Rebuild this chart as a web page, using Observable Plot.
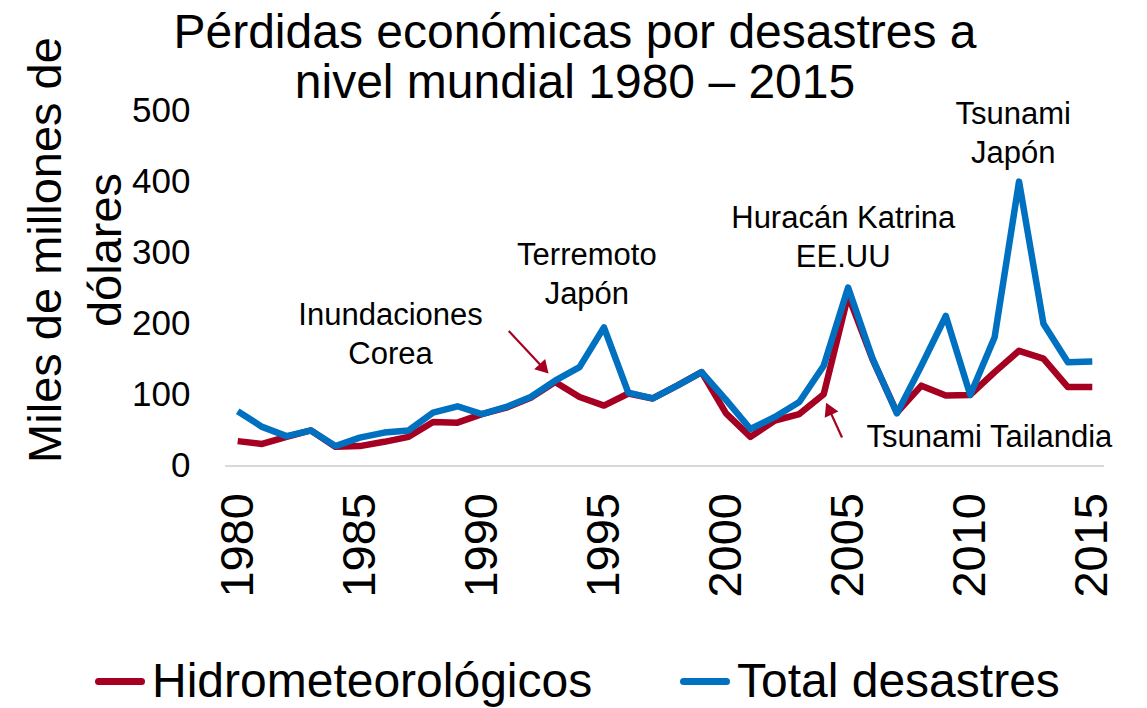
<!DOCTYPE html>
<html>
<head>
<meta charset="utf-8">
<script src="https://cdn.jsdelivr.net/npm/d3@7"></script>
<script src="https://cdn.jsdelivr.net/npm/@observablehq/plot@0.6"></script>
<style>
  html, body { margin: 0; padding: 0; background: #fff; }
  body { font-family: "Liberation Sans", Arial, sans-serif; color: #000; }
  #wrap { position: relative; width: 1147px; height: 708px; overflow: hidden; }
  #title { position: absolute; left: 170px; width: 810px; top: 7px; text-align: center;
           font-size: 48px; line-height: 50px; white-space: nowrap; }
  #ylabel { position: absolute; left: -175px; top: 190px; width: 500px; height: 120px;
            text-align: center; font-size: 47px; line-height: 60px; transform: rotate(-90deg); white-space: nowrap; }
  #chart { position: absolute; left: 0; top: 0; }
  .leg { position: absolute; top: 653px; font-size: 48px; line-height: 56px; white-space: nowrap; display: flex; align-items: center; }
  .sw { display: inline-block; width: 50px; height: 7px; border-radius: 4px; margin-right: 7px; }
</style>
</head>
<body>
<div id="wrap">
  <div id="chart"></div>
  <div id="title"></div>
  <div id="ylabel"></div>
  <div id="legend"></div>
</div>
<script>
// ---- data ----
const titleLines = ["Pérdidas económicas por desastres a", "nivel mundial 1980 – 2015"];
const yLabelLines = ["Miles de millones de", "dólares"];
const years = [1980,1981,1982,1983,1984,1985,1986,1987,1988,1989,1990,1991,1992,1993,1994,1995,1996,1997,1998,1999,2000,2001,2002,2003,2004,2005,2006,2007,2008,2009,2010,2011,2012,2013,2014,2015];
const hidro = [35,31,41,50,27,28,34,41,62,61,73,82,96,118,97,85,102,95,113,132,74,41,64,73,101,240,150,75,113,99,100,132,162,151,111,111];
const total = [77,55,42,50,28,40,47,50,75,84,73,83,97,120,139,195,103,95,113,132,93,52,69,90,141,251,151,74,141,211,100,181,400,200,146,147];
const seriesNames = ["Hidrometeorológicos", "Total desastres"];
const seriesColors = ["#A50021", "#0070C0"];
const xTicks = [1980,1985,1990,1995,2000,2005,2010,2015];
const yTicks = [0,100,200,300,400,500];
const annotations = [
  {label: "Inundaciones\nCorea", x: 1986.26, y: 189},
  {label: "Terremoto\nJapón", x: 1994.3, y: 273},
  {label: "Huracán Katrina\nEE.UU", x: 2004.8, y: 325},
  {label: "Tsunami\nJapón", x: 2011.76, y: 471}
];
const sideNote = [{label: "Tsunami Tailandia", x: 2005.75, y: 40}];
const arrows = [
  {x1: 1991.1, y1: 190, x2: 1992.73, y2: 130},
  {x1: 2004.75, y1: 40, x2: 2004.1, y2: 89}
];

// ---- build ----
const rows = [];
years.forEach((yr, i) => rows.push({year: yr, value: hidro[i], s: seriesNames[0]}));
years.forEach((yr, i) => rows.push({year: yr, value: total[i], s: seriesNames[1]}));

const W = 1147, H = 640, mL = 225, mR = 43, mT = 110, mB = 174.5;
const xDomain = [1979.5, 2015.5], yDomain = [0, 500];
const xs = Plot.scale({x: {domain: xDomain, range: [mL, W - mR]}});
const ys = Plot.scale({y: {domain: yDomain, range: [H - mB, mT]}});

// arrow shafts + filled triangular heads, computed in screen space
const headH = 13;
const shafts = [], heads = [];
arrows.forEach(a => {
  const px1 = xs.apply(a.x1), py1 = ys.apply(a.y1);
  const px2 = xs.apply(a.x2), py2 = ys.apply(a.y2);
  const L = Math.hypot(px2 - px1, py2 - py1);
  const ux = (px2 - px1) / L, uy = (py2 - py1) / L;
  const cx = px2 - ux * headH * 2 / 3, cy = py2 - uy * headH * 2 / 3;
  shafts.push({x1: a.x1, y1: a.y1, x2: xs.invert(cx), y2: ys.invert(cy)});
  heads.push({x: xs.invert(cx), y: ys.invert(cy), rot: Math.atan2(ux, -uy) * 180 / Math.PI});
});
const triR = Math.sqrt(3 * Math.sqrt(3) * Math.pow(headH / 3, 2) / Math.PI);

const font = "'Liberation Sans', Arial, sans-serif";
const chart = Plot.plot({
  width: W,
  height: H,
  marginLeft: mL,
  marginRight: mR,
  marginTop: mT,
  marginBottom: mB,
  style: {fontFamily: font, color: "#000", background: "transparent", overflow: "visible"},
  x: {domain: xDomain},
  y: {domain: yDomain},
  color: {domain: seriesNames, range: seriesColors},
  marks: [
    Plot.ruleY([0], {stroke: "#d9d9d9", strokeWidth: 2}),
    Plot.axisY({ticks: yTicks, tickSize: 0, tickPadding: 35, fontSize: 35, label: null}),
    Plot.axisX({ticks: xTicks, tickFormat: d => String(d), tickRotate: -90, tickSize: 0, tickPadding: 27, fontSize: 47, label: null}),
    Plot.line(rows, {x: "year", y: "value", z: "s", stroke: "s", strokeWidth: 6.5, strokeLinejoin: "round", strokeLinecap: "butt"}),
    Plot.link(shafts, {x1: "x1", y1: "y1", x2: "x2", y2: "y2", stroke: seriesColors[0], strokeWidth: 2.2}),
    Plot.dot(heads, {x: "x", y: "y", symbol: "triangle", r: triR, rotate: "rot", fill: seriesColors[0], stroke: "none"}),
    Plot.text(annotations, {x: "x", y: "y", text: "label", fontSize: 31, lineHeight: 1.27, fill: "#000"}),
    Plot.text(sideNote, {x: "x", y: "y", text: "label", fontSize: 31, textAnchor: "start", fill: "#000"})
  ]
});
document.getElementById("chart").appendChild(chart);

document.getElementById("title").innerHTML = titleLines.join("<br>");
document.getElementById("ylabel").innerHTML = yLabelLines.join("<br>");

const legend = document.getElementById("legend");
const legLeft = [95, 680];
seriesNames.forEach((n, i) => {
  const d = document.createElement("div");
  d.className = "leg";
  d.style.left = legLeft[i] + "px";
  const sw = document.createElement("span");
  sw.className = "sw";
  sw.style.background = seriesColors[i];
  d.appendChild(sw);
  d.appendChild(document.createTextNode(n));
  legend.appendChild(d);
});
</script>
</body>
</html>
